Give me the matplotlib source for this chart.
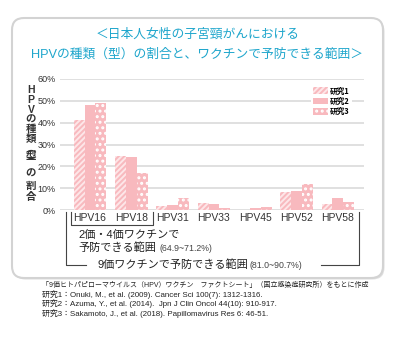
import matplotlib.pyplot as plt
import numpy as np
from matplotlib.patches import FancyBboxPatch
from matplotlib.lines import Line2D

# data (%)
types = ["HPV16", "HPV18", "HPV31", "HPV33", "HPV45", "HPV52", "HPV58"]
study1 = [41.2, 24.7, 1.8, 3.4, 0.0, 8.4, 2.9]
study2 = [48.2, 24.1, 2.4, 2.6, 0.9, 8.9, 5.5]
study3 = [49.0, 16.9, 5.6, 1.1, 1.5, 11.8, 3.8]
study_labels = ["研究1", "研究2", "研究3"]
yticks = [0, 10, 20, 30, 40, 50, 60]

title_lines = ["＜日本人女性の子宮頸がんにおける",
               "HPVの種類（型）の割合と、ワクチンで予防できる範囲＞"]
ylabel_parts = ["H", "P", "V", "の", "種", "類", "︵\n型\n︶", "の", "割", "合"]
bracket1 = ["2価・4価ワクチンで", "予防できる範囲", "(64.9~71.2%)"]
bracket2 = ["9価ワクチンで予防できる範囲", "(81.0~90.7%)"]
footer = ["「9価ヒトパピローマウイルス（HPV）ワクチン　ファクトシート」（国立感染症研究所）をもとに作成",
          "研究1：Onuki, M., et al. (2009). Cancer Sci 100(7): 1312-1316.",
          "研究2：Azuma, Y., et al. (2014).  Jpn J Clin Oncol 44(10): 910-917.",
          "研究3：Sakamoto, J., et al. (2018). Papillomavirus Res 6: 46-51."]

FONT = ["Liberation Sans", "Noto Sans CJK JP"]
JP = ["Noto Sans CJK JP"]
pink = "#f8b9be"
cyan = "#1fa6cc"
dark = "#333333"

plt.rcParams["font.family"] = FONT
plt.rcParams["hatch.linewidth"] = 1.4

fig = plt.figure(figsize=(3.97, 3.44), dpi=100)

# rounded frame with a soft shadow
shadow = FancyBboxPatch((0.135, 0.645), 3.71, 2.60, boxstyle="round,pad=0,rounding_size=0.12",
                        transform=fig.dpi_scale_trans, facecolor="#e0e0e0", edgecolor="none", zorder=-2)
frame = FancyBboxPatch((0.12, 0.66), 3.71, 2.60, boxstyle="round,pad=0,rounding_size=0.12",
                       transform=fig.dpi_scale_trans, facecolor="white", edgecolor="#d3d3d3",
                       linewidth=1.5, zorder=-1)
fig.patches.extend([shadow, frame])

fig.text(0.497, 1 - 35 / 344, title_lines[0], ha="center", va="center", color=cyan, fontsize=9.2)
fig.text(0.497, 1 - 55 / 344, title_lines[1], ha="center", va="center", color=cyan, fontsize=9.2)

ax = fig.add_axes([60 / 397, 1 - 210 / 344, 304 / 397, 131 / 344])
ax.set_zorder(2)
ax.patch.set_visible(False)
x = np.arange(len(types))
w = 0.265
b1 = ax.bar(x - w, study1, w, color=pink, edgecolor="#fde6e8", linewidth=0, hatch="//////", zorder=3)
b2 = ax.bar(x, study2, w, color=pink, edgecolor="white", linewidth=0, zorder=3)
b3 = ax.bar(x + w, study3, w, color=pink, edgecolor="white", linewidth=0, hatch="...", zorder=3)

ax.set_xlim(-0.726, 6.63)
ax.set_ylim(0, 60)
ax.set_yticks(yticks)
ax.set_yticklabels([f"{v}%" for v in yticks])
ax.set_xticks(x)
ax.set_xticklabels(types)
ax.tick_params(axis="both", length=0, colors=dark)
ax.tick_params(axis="y", labelsize=6.5, pad=3)
ax.tick_params(axis="x", labelsize=7.5, pad=2)
ax.grid(axis="y", color="#dddddd", linewidth=1.3, zorder=0)
for s in ax.spines.values():
    s.set_visible(False)

leg = ax.legend([b1, b2, b3], study_labels, loc="upper right", bbox_to_anchor=(0.96, 0.96),
                frameon=True, facecolor="white", edgecolor="none", framealpha=1,
                handlelength=1.9, handleheight=1.0, labelspacing=0.15, handletextpad=0.25,
                borderpad=0.3, borderaxespad=0, fancybox=False,
                prop={"family": JP, "size": 5.5, "weight": "bold"})
leg.set_zorder(5)

# vertical y label
ys = [90, 100, 110, 119.5, 129, 139, 156, 174, 186, 197]
for part, yy in zip(ylabel_parts, ys):
    fig.text(31 / 397, 1 - yy / 344, part, ha="center", va="center", fontsize=7.5,
             fontweight="bold", color=dark, family=FONT, linespacing=0.55)

# brackets under the axis
tr = ax.get_xaxis_transform()
lc = "#444444"
ax.add_line(Line2D([-0.45, -0.45, 1.52, 1.52], [-0.015, -0.115, -0.115, -0.015],
                   transform=tr, color=lc, linewidth=0.8, clip_on=False))
ax.add_line(Line2D([-0.09, -0.58, -0.58], [-0.42, -0.42, -0.015],
                   transform=tr, color=lc, linewidth=0.8, clip_on=False))
ax.add_line(Line2D([5.58, 6.51, 6.51], [-0.42, -0.42, -0.015],
                   transform=tr, color=lc, linewidth=0.8, clip_on=False))

fig.text(78 / 397, 1 - 235 / 344, bracket1[0], ha="left", va="center", fontsize=8, color="#222222")
fig.text(78 / 397, 1 - 248 / 344, bracket1[1], ha="left", va="center", fontsize=8, color="#222222")
fig.text(160 / 397, 1 - 248.5 / 344, bracket1[2], ha="left", va="center", fontsize=6.3, color="#444444")
fig.text(98 / 397, 1 - 265 / 344, bracket2[0], ha="left", va="center", fontsize=8, color="#222222")
fig.text(249 / 397, 1 - 265.5 / 344, bracket2[1], ha="left", va="center", fontsize=6.3, color="#444444")

# sources
fy = [285, 294.5, 304, 313.5]
fs = [5.0, 5.7, 5.7, 5.7]
for line, yy, f in zip(footer, fy, fs):
    fig.text(42 / 397, 1 - yy / 344, line, ha="left", va="center", fontsize=f, color="#222222")

fig.savefig("out.png", dpi=100)
